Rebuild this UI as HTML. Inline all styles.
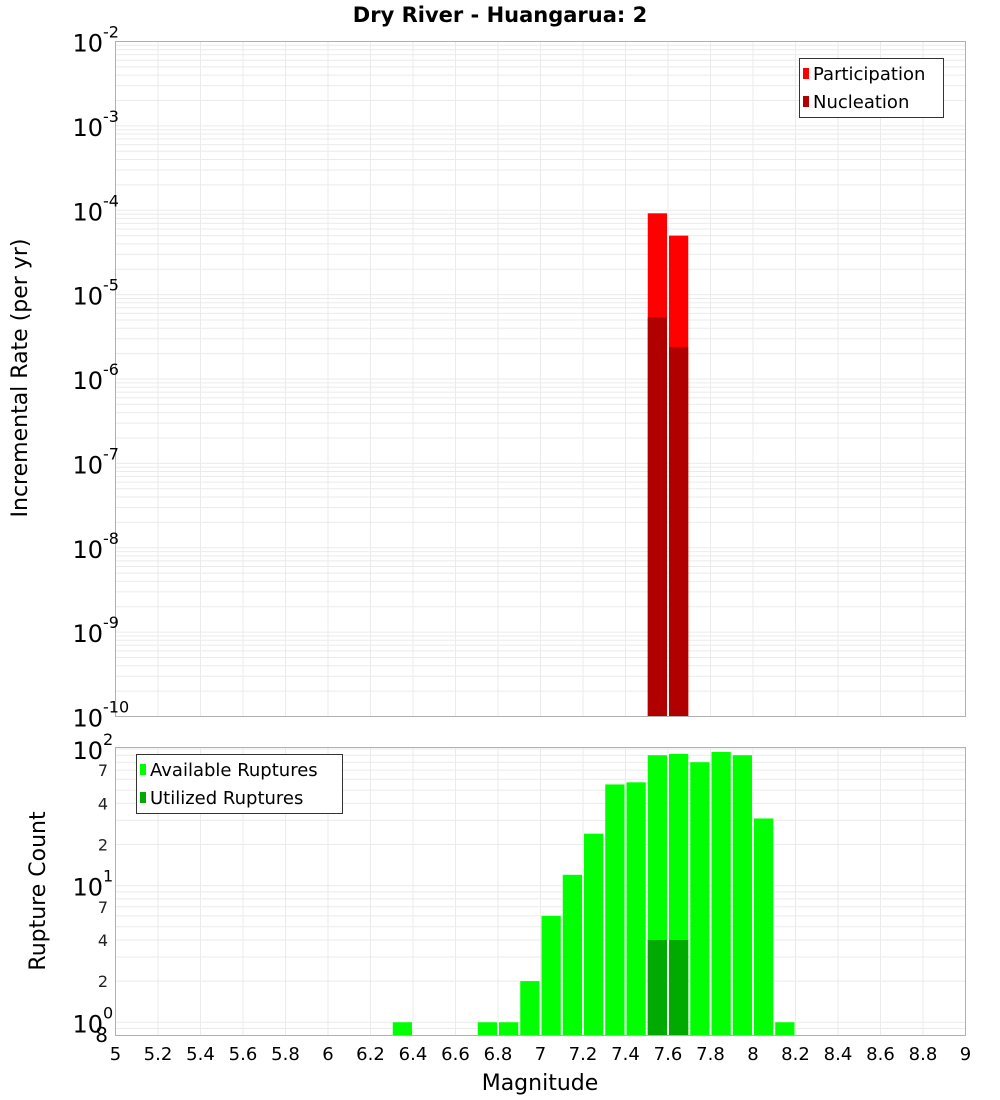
<!DOCTYPE html>
<html><head><meta charset="utf-8"><style>
html,body{margin:0;padding:0;background:#fff;}
svg{display:block;font-family:"DejaVu Sans","Liberation Sans",sans-serif;}
</style></head><body>
<svg id="chart" width="1000" height="1100" viewBox="0 0 1000 1100" xmlns="http://www.w3.org/2000/svg">
<text x="500" y="22" text-anchor="middle" font-size="21" font-weight="bold">Dry River - Huangarua: 2</text>
<g id="topPanel"></g><g id="botPanel"></g>
<text transform="translate(27,378) rotate(-90)" text-anchor="middle" font-size="22">Incremental Rate (per yr)</text>
<text transform="translate(45,891) rotate(-90)" text-anchor="middle" font-size="22">Rupture Count</text>
<text x="540" y="1090" text-anchor="middle" font-size="22">Magnitude</text>
<g>
<rect x="799.5" y="58.5" width="144" height="59" fill="#fff" stroke="#333"/>
<rect x="803" y="68" width="6" height="11" fill="#ff0000"/>
<text x="813" y="80" font-size="18">Participation</text>
<rect x="803" y="96" width="6" height="11" fill="#b00000"/>
<text x="813" y="108" font-size="18">Nucleation</text>
</g>
<g>
<rect x="136.5" y="754.5" width="206" height="59" fill="#fff" stroke="#333"/>
<rect x="140" y="764" width="6" height="11" fill="#00ff00"/>
<text x="150" y="776" font-size="18">Available Ruptures</text>
<rect x="140" y="792" width="6" height="11" fill="#00aa00"/>
<text x="150" y="804" font-size="18">Utilized Ruptures</text>
</g>
</svg>
<script>
const magBins=[6.3,6.4,6.5,6.6,6.7,6.8,6.9,7.0,7.1,7.2,7.3,7.4,7.5,7.6,7.7,7.8,7.9,8.0,8.1];
const availableCounts=[1,0,0,0,1,1,2,6,12,24,55,57,90,92,80,95,90,31,1];
const utilizedCounts=[0,0,0,0,0,0,0,0,0,0,0,0,4,4,0,0,0,0,0];
const rateBins=[7.5,7.6];
const participationRates=[9.2e-5,5.0e-5];
const nucleationRates=[5.4e-6,2.4e-6];
const xTicks=[5,5.2,5.4,5.6,5.8,6,6.2,6.4,6.6,6.8,7,7.2,7.4,7.6,7.8,8,8.2,8.4,8.6,8.8,9];
const topExps=[-2,-3,-4,-5,-6,-7,-8,-9,-10];
const botMinor=[["7",70],["4",40],["2",20],["7",7],["4",4],["2",2]];

const NS="http://www.w3.org/2000/svg";
const L=115.5,R=965.5;
const X=m=>L+(m-5)/4*(R-L);
const tT=41.5,tB=716.5;
const yTop=v=>tT+(-2-Math.log10(v))/8*(tB-tT);
const bT=747.5,bB=1035.5,bMin=0.8,bMax=102.5;
const yBot=v=>bB-(Math.log10(v)-Math.log10(bMin))/(Math.log10(bMax)-Math.log10(bMin))*(bB-bT);
function mk(p,tag,a){const e=document.createElementNS(NS,tag);for(const k in a)e.setAttribute(k,a[k]);p.appendChild(e);return e;}
const svgEl=document.getElementById('chart');
const topG=document.getElementById('topPanel'),botG=document.getElementById('botPanel');




function grid(g,T,B,yf,dmin,dmax){
  for(let d=dmin;d<dmax;d++)for(let k=1;k<10;k++){const v=k*Math.pow(10,d);const y=yf(v);if(y<T-0.1||y>B+0.1)continue;
    const ln=mk(g,'line',{x1:L,x2:R,y1:y,y2:y,stroke:'#ebebeb','stroke-width':1});
    
    }
  xTicks.forEach(t=>{const ln=mk(g,'line',{x1:X(t),x2:X(t),y1:T,y2:B,stroke:'#ebebeb','stroke-width':1});
    
    });
}
grid(topG,tT,tB,yTop,-10,-1);
grid(botG,bT,bB,yBot,-1,3);
const bw=X(5.1)-X(5);
rateBins.forEach((m,i)=>{
  const r=mk(topG,'rect',{x:X(m)+1,y:yTop(participationRates[i]),width:bw-2,height:tB-yTop(participationRates[i]),fill:'#ff0000'});
  
  
  const n=mk(topG,'rect',{x:X(m)+1,y:yTop(nucleationRates[i]),width:bw-2,height:tB-yTop(nucleationRates[i]),fill:'#b00000'});
  
  
});
magBins.forEach((m,i)=>{
  if(availableCounts[i]>0){const r=mk(botG,'rect',{x:X(m)+1,y:yBot(availableCounts[i]),width:bw-2,height:bB-yBot(availableCounts[i]),fill:'#00ff00'});
    
    }
  if(utilizedCounts[i]>0){const r=mk(botG,'rect',{x:X(m)+1,y:yBot(utilizedCounts[i]),width:bw-2,height:bB-yBot(utilizedCounts[i]),fill:'#00aa00'});
    
    }
});
mk(topG,'rect',{x:L,y:tT,width:R-L,height:tB-tT,fill:'none',stroke:'#b0b0b0'});
mk(botG,'rect',{x:L,y:bT,width:R-L,height:bB-bT,fill:'none',stroke:'#b0b0b0'});
topExps.forEach(e=>{const y=yTop(Math.pow(10,e));
  const t=mk(topG,'text',{x:103,y:y+10,'text-anchor':'end','font-size':24});t.textContent='10';
  
  
  const s=mk(topG,'text',{x:103,y:y-4,'font-size':16});s.textContent=String(e);
  
  });
[0,1,2].forEach(e=>{const y=yBot(Math.pow(10,e));
  const t=mk(botG,'text',{x:103,y:y+10,'text-anchor':'end','font-size':24});t.textContent='10';
  
  
  const s=mk(botG,'text',{x:103,y:y-4,'font-size':16});s.textContent=String(e);
  
  });
botMinor.forEach(([lab,v])=>{const t=mk(botG,'text',{x:108,y:yBot(v)+6,'text-anchor':'end','font-size':16,fill:'#222'});t.textContent=lab;
  
  });
{const t=mk(botG,'text',{x:108,y:1042,'text-anchor':'end','font-size':20});t.textContent='8';
 
 }
xTicks.forEach(m=>{const t=mk(svgEl,'text',{x:X(m),y:1060,'text-anchor':'middle','font-size':18});t.textContent=String(m);
  
  });
</script>
</body></html>
